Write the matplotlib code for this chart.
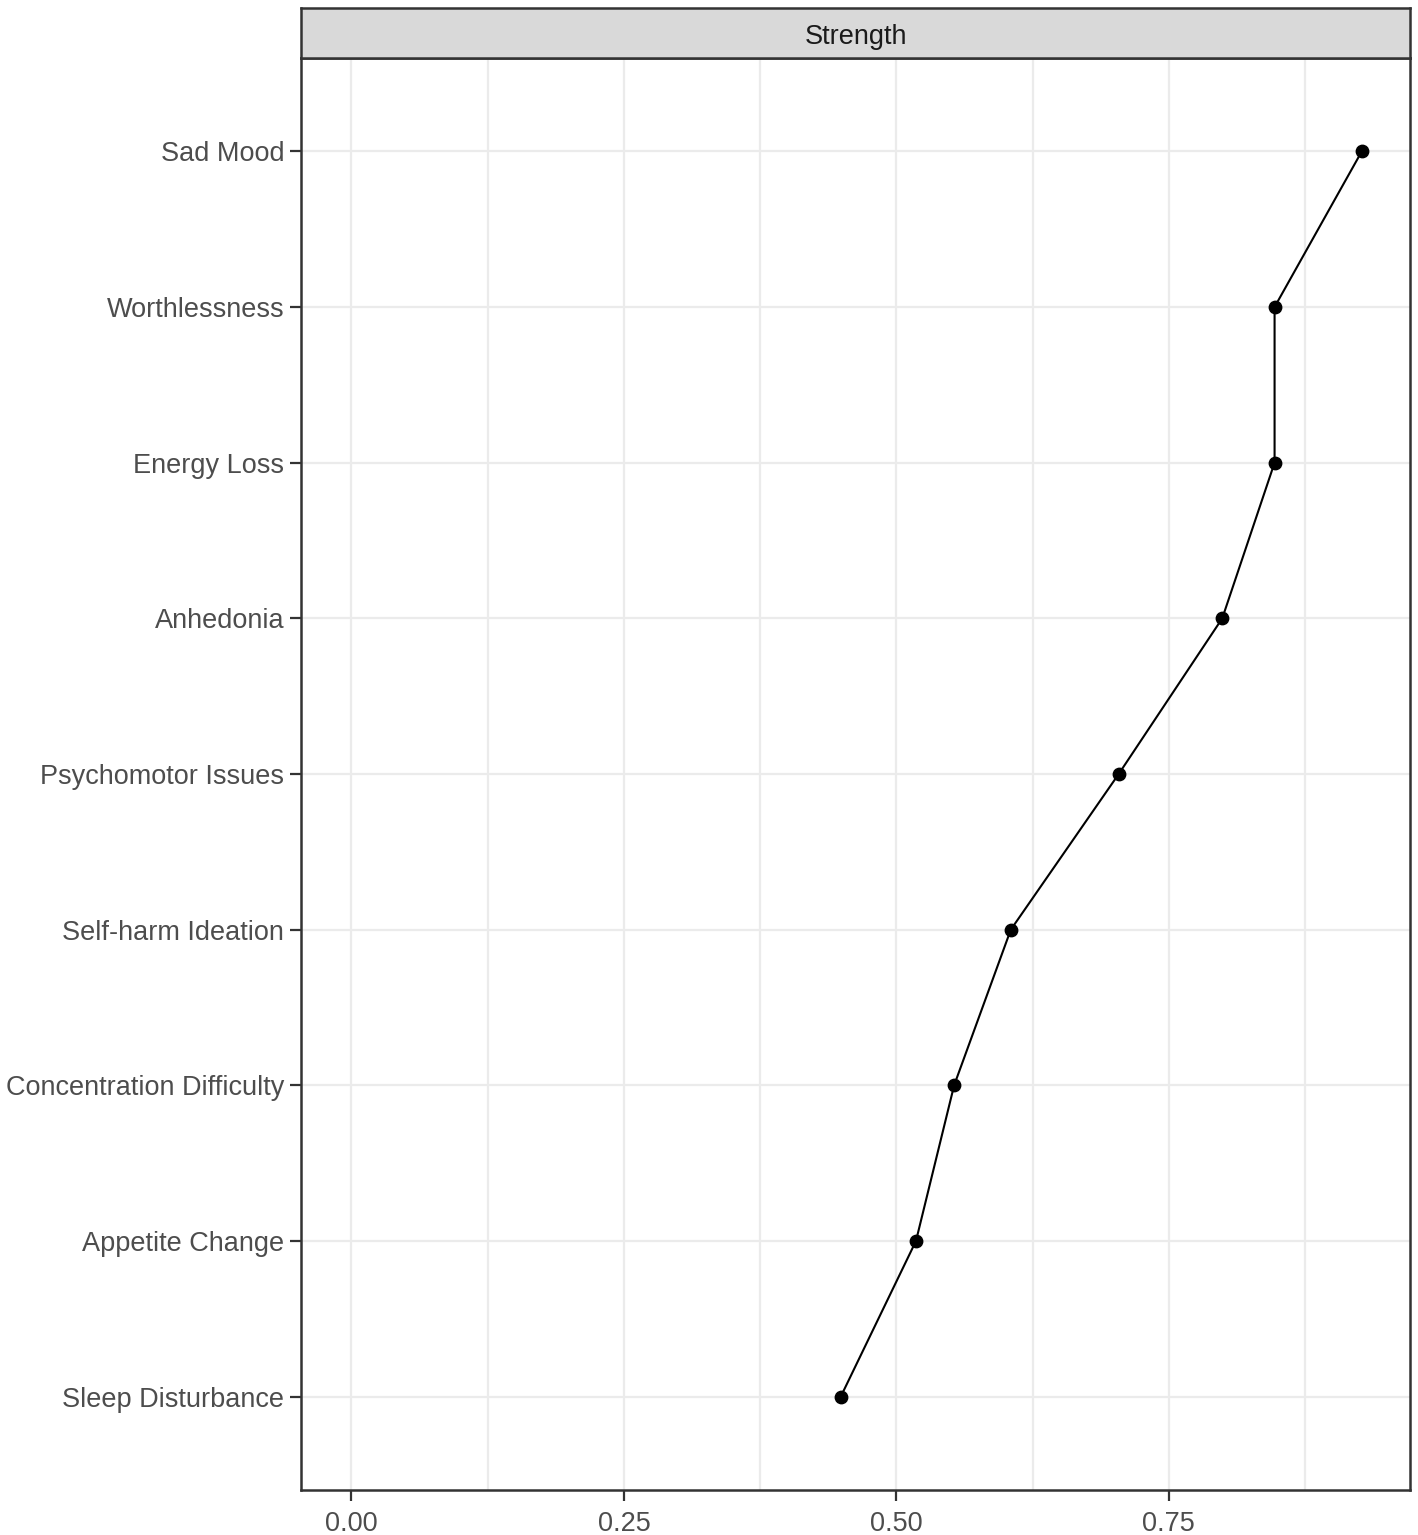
import matplotlib.pyplot as plt

# centrality values (top to bottom)
symptoms = ['Sad Mood', 'Worthlessness', 'Energy Loss', 'Anhedonia',
            'Psychomotor Issues', 'Self-harm Ideation', 'Concentration Difficulty',
            'Appetite Change', 'Sleep Disturbance']
strength = [0.927, 0.847, 0.847, 0.799, 0.704, 0.605, 0.553, 0.518, 0.449]
xticks = [0.0, 0.25, 0.5, 0.75]
xtick_labels = ['0.00', '0.25', '0.50', '0.75']
minor_ticks = [0.125, 0.375, 0.625, 0.875]

plt.rcParams['font.family'] = ['Liberation Sans', 'DejaVu Sans']

W, H = 1418, 1535
fig = plt.figure(figsize=(W / 100, H / 100), dpi=100)
ax = fig.add_axes([301 / W, 1 - 1490 / H, (1410 - 301) / W, (1490 - 58) / H])

n = len(symptoms)
ypos = list(range(n, 0, -1))

for v in xticks + minor_ticks:
    ax.axvline(v, color='#EBEBEB', lw=1.6, zorder=0)
for y in ypos:
    ax.axhline(y, color='#EBEBEB', lw=1.6, zorder=0)

ax.plot(strength, ypos, color='black', lw=1.5, zorder=2)
ax.scatter(strength, ypos, s=80, color='black', zorder=3)

lo, hi = 0.0, 0.925
pad = (hi - lo) * 0.05
ax.set_xlim(lo - pad, hi + pad)
ax.set_ylim(0.4, n + 0.6)
ax.set_xticks(xticks)
ax.set_xticklabels(xtick_labels)
ax.set_yticks(ypos)
ax.set_yticklabels(symptoms)
ax.tick_params(axis='both', labelsize=19.5, labelcolor='#4D4D4D', color='#333333',
               length=8, width=1.6)
ax.tick_params(axis='x', pad=7)
ax.tick_params(axis='y', pad=4)

for s in ax.spines.values():
    s.set_color('#333333')
    s.set_linewidth(1.8)

# facet strip
sax = fig.add_axes([301 / W, 1 - 58 / H, (1410 - 301) / W, 50 / H])
sax.set_xticks([])
sax.set_yticks([])
sax.set_facecolor('#D9D9D9')
for s in sax.spines.values():
    s.set_color('#333333')
    s.set_linewidth(1.8)
sax.text(0.5, 0.42, 'Strength', ha='center', va='center', fontsize=19.5,
         color='#1A1A1A', transform=sax.transAxes)

fig.savefig('out.png', dpi=100)
